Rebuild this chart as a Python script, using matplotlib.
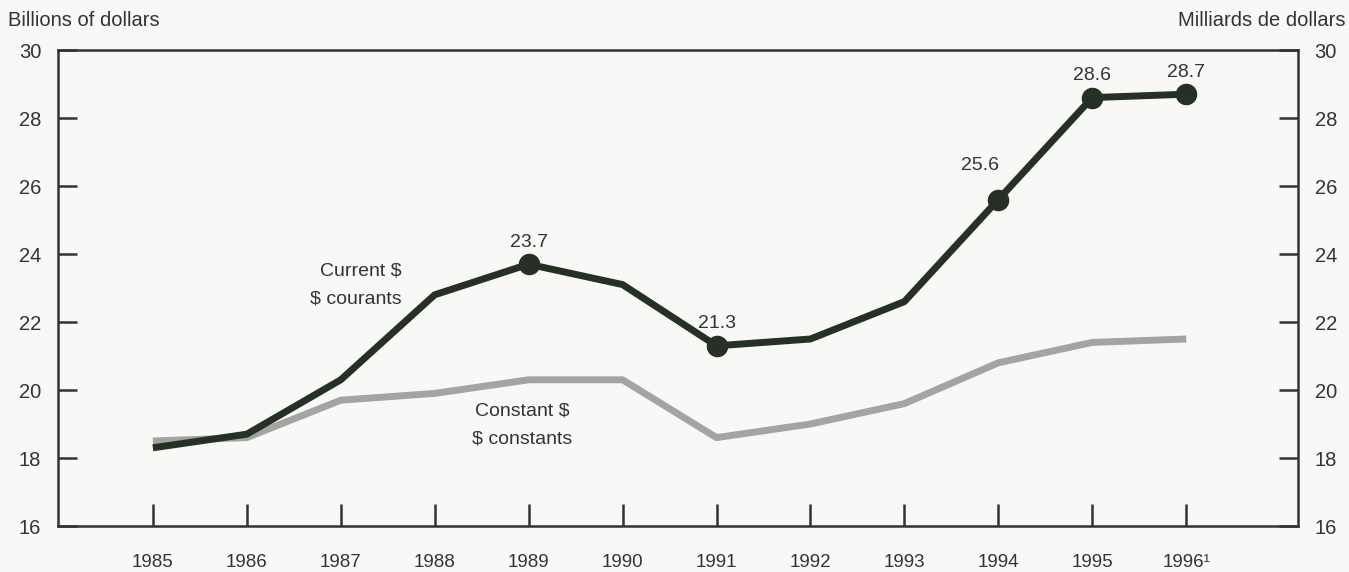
import matplotlib.pyplot as plt

plt.rcParams['font.family'] = ['Liberation Sans', 'DejaVu Sans']

years = [1985, 1986, 1987, 1988, 1989, 1990, 1991, 1992, 1993, 1994, 1995, 1996]
year_labels = ["1985", "1986", "1987", "1988", "1989", "1990", "1991", "1992",
               "1993", "1994", "1995", "1996\u00b9"]
current = [18.3, 18.7, 20.3, 22.8, 23.7, 23.1, 21.3, 21.5, 22.6, 25.6, 28.6, 28.7]
constant = [18.5, 18.6, 19.7, 19.9, 20.3, 20.3, 18.6, 19.0, 19.6, 20.8, 21.4, 21.5]
marked_years = [1989, 1991, 1994, 1995, 1996]
y_ticks = [16, 18, 20, 22, 24, 26, 28, 30]

text_col = "#333333"
dark = "#263024"

fig = plt.figure(figsize=(13.49, 5.72), dpi=100)
fig.patch.set_facecolor("#f8f8f6")
ax = fig.add_axes([58 / 1349, 46 / 572, 1240 / 1349, 476 / 572])
ax.set_facecolor("#f8f8f6")

ax.plot(years, constant, color="#a4a4a4", lw=5, solid_capstyle="butt", zorder=2)
ax.plot(years, current, color=dark, lw=5, solid_capstyle="butt", zorder=3)

mx = [y for y in years if y in marked_years]
my = [current[years.index(y)] for y in mx]
ax.plot(mx, my, "o", color=dark, ms=14.5, zorder=4)

for x, v in zip(mx, my):
    dx = -0.2 if x == 1994 else 0
    dy = 0.75 if x == 1994 else 0.4
    ax.text(x + dx, v + dy, f"{v:.1f}", ha="center", va="bottom",
            fontsize=14, color=text_col)

ax.text(1987.65, 23.1, "Current \\$\n\\$ courants", ha="right", va="center",
        fontsize=14, color=text_col, linespacing=1.85)
ax.text(1988.93, 18.97, "Constant \\$\n\\$ constants", ha="center", va="center",
        fontsize=14, color=text_col, linespacing=1.85)

ax.set_xlim(1983.99, 1997.19)
ax.set_ylim(16, 30)
ax.set_xticks(years)
ax.set_xticklabels(year_labels)
ax.set_yticks(y_ticks)
ax.tick_params(axis="x", direction="in", length=16, width=1.8, color=text_col,
               labelsize=13.5, labelcolor=text_col, pad=20)
ax.tick_params(axis="y", direction="in", length=14, width=1.8, color=text_col,
               labelsize=14.5, labelcolor=text_col, pad=12,
               left=True, right=True, labelleft=True, labelright=True)
for s in ax.spines.values():
    s.set_linewidth(1.8)
    s.set_color(text_col)

fig.text(8 / 1349, 1 - 20 / 572, "Billions of dollars", ha="left", va="center",
         fontsize=14.5, color=text_col)
fig.text(1345 / 1349, 1 - 20 / 572, "Milliards de dollars", ha="right", va="center",
         fontsize=14.5, color=text_col)

fig.savefig("out.png", dpi=100, facecolor=fig.get_facecolor())
